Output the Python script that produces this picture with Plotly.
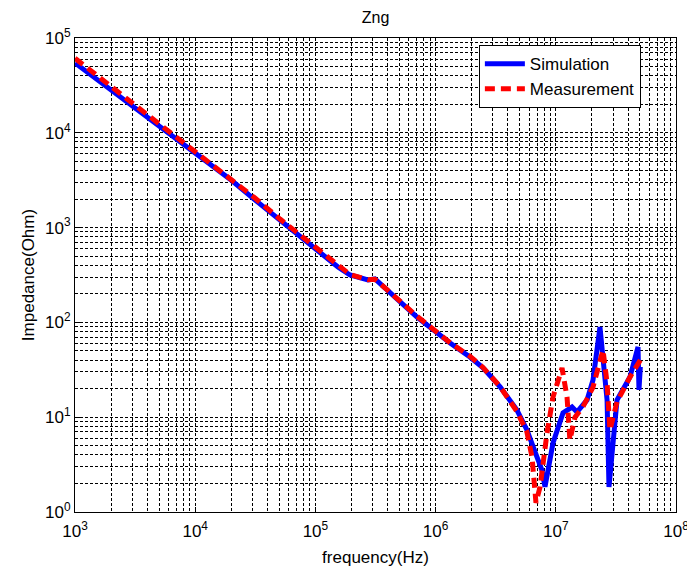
import plotly.graph_objects as go

# Simulation (blue)
sim_freq = [1000, 2000, 4000, 6790, 10000, 20000, 31600, 50800, 103000, 154000,
            194000, 274000, 313000, 394000, 700000, 1.32e6, 1.93e6, 2.48e6, 3.44e6,
            4.75e6, 5.75e6, 6.98e6, 7.67e6, 8.13e6, 9.48e6, 1.148e7, 1.365e7, 1.50e7,
            1.82e7, 2.04e7, 2.33e7, 2.67e7, 2.77e7, 3.23e7, 4.14e7, 4.83e7, 4.92e7, 5.05e7]
sim_z = [54500, 28200, 14450, 8710, 6030, 3160, 1950, 1200, 581, 384,
         316, 280, 287, 220, 114, 60.7, 43.2, 33.1, 20.9,
         11.9, 7.33, 3.8, 2.77, 1.84, 5.35, 11.1, 12.8, 11.35,
         15.2, 24.7, 89.3, 15.2, 1.84, 15.2, 26.5, 55.1, 19.4, 33.9]

# Measurement (red)
meas_freq = [1000, 2000, 4000, 6790, 10000, 20000, 31600, 50800, 103000, 154000,
             194000, 274000, 313000, 394000, 700000, 1.32e6, 1.93e6, 2.48e6, 3.44e6,
             4.75e6, 5.75e6, 6.34e6, 6.84e6, 7.4e6, 8.45e6, 9.48e6, 1.127e7, 1.24e7,
             1.31e7, 1.445e7, 1.68e7, 2.04e7, 2.47e7, 2.67e7, 2.82e7, 3.23e7, 4.14e7, 5.05e7]
meas_z = [61100, 30200, 15500, 9230, 6310, 3310, 2040, 1230, 600, 390,
          320, 282, 285, 222, 116, 61, 44, 33.5, 21,
          11.5, 7.0, 3.8, 1.25, 1.84, 6.8, 16.3, 33.0, 16.3,
          5.74, 10.0, 12.8, 20.8, 51.2, 23.0, 7.3, 14.5, 26.5, 40.1]

x_decades = [1e3, 1e4, 1e5, 1e6, 1e7, 1e8]
x_ticktext = ["10<sup>3</sup>", "10<sup>4</sup>", "10<sup>5</sup>", "10<sup>6</sup>",
              "10<sup>7</sup>", "10<sup>8</sup>"]
y_decades = [1e0, 1e1, 1e2, 1e3, 1e4, 1e5]
y_ticktext = ["10<sup>0</sup>", "10<sup>1</sup>", "10<sup>2</sup>", "10<sup>3</sup>",
              "10<sup>4</sup>", "10<sup>5</sup>"]

x_minor = [m * d for d in x_decades[:-1] for m in range(2, 10)]
y_minor = [m * d for d in y_decades[:-1] for m in range(2, 10)]

fig = go.Figure()
fig.add_trace(go.Scatter(x=sim_freq, y=sim_z, mode="lines", name="Simulation",
                         line=dict(color="#0000ff", width=5)))
fig.add_trace(go.Scatter(x=meas_freq, y=meas_z, mode="lines", name="Measurement",
                         line=dict(color="#ff0000", width=5, dash="10px,6px")))

font_family = "Liberation Sans, Arial, sans-serif"
grid_common = dict(gridcolor="black", gridwidth=0.6, griddash="3px,2px")

# page body has an 8px margin, so the figure is shrunk by that amount
W, H = 687, 567
fig.update_layout(
    width=W, height=H,
    paper_bgcolor="white", plot_bgcolor="white",
    margin=dict(l=67, r=19, t=30, b=63, autoexpand=False),
    font=dict(family=font_family, color="black"),
    title=dict(text="Zng", x=(375.5 - 8) / W, xref="container", xanchor="center",
               y=1 - 9 / H, yref="container", yanchor="middle",
               font=dict(size=16, family=font_family, color="black")),
    showlegend=True,
    legend=dict(x=0.672, y=0.985, xanchor="left", yanchor="top",
                bgcolor="white", bordercolor="black", borderwidth=1,
                font=dict(size=17, family=font_family), itemwidth=40,
                entrywidth=150, tracegroupgap=4),
    xaxis=dict(type="log", range=[3, 8], tickvals=x_decades, ticktext=x_ticktext,
               showgrid=True, **grid_common,
               minor=dict(tickvals=x_minor, showgrid=True, gridcolor="black",
                          gridwidth=0.6, griddash="3px,2px", ticks=""),
               showline=True, linecolor="black", linewidth=1, mirror=True,
               ticks="inside", ticklen=5, tickcolor="black",
               tickfont=dict(size=17, family=font_family),
               ticklabelstandoff=4,
               zeroline=False, automargin=False,
               title=dict(text="frequency(Hz)", font=dict(size=17, family=font_family),
                          standoff=10)),
    yaxis=dict(type="log", range=[0, 5], tickvals=y_decades, ticktext=y_ticktext,
               showgrid=True, **grid_common,
               minor=dict(tickvals=y_minor, showgrid=True, gridcolor="black",
                          gridwidth=0.6, griddash="3px,2px", ticks=""),
               showline=True, linecolor="black", linewidth=1, mirror=True,
               ticks="inside", ticklen=5, tickcolor="black",
               tickfont=dict(size=17, family=font_family),
               zeroline=False, automargin=False,
               title=dict(text="Impedance(Ohm)", font=dict(size=17, family=font_family),
                          standoff=6)),
)

fig.write_html("out.html")
